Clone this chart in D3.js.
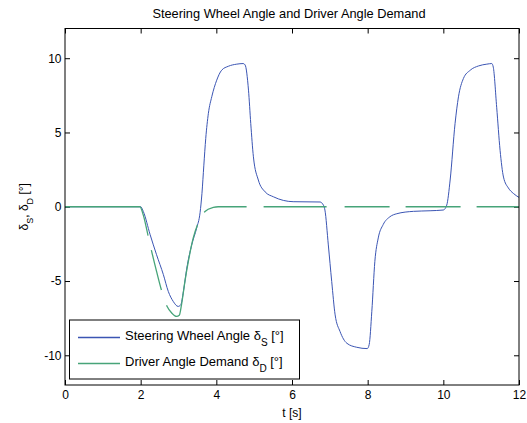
<!DOCTYPE html>
<html>
<head>
<meta charset="utf-8">
<script src="https://cdn.jsdelivr.net/npm/d3@7"></script>
<style>
  body { margin: 0; background: #fff; }
  svg text { font-family: "Liberation Sans", Arial, sans-serif; fill: #000; }
</style>
</head>
<body>
<div class="chart"></div>
<script>
// steering wheel angle (blue)
const steerT = [0, 2.0, 2.07, 2.25, 2.42, 2.6, 2.73, 2.86, 2.99, 3.06, 3.13, 3.22, 3.35, 3.48, 3.57, 3.62, 3.67, 3.72, 3.79, 3.88, 4.01, 4.14, 4.32, 4.54, 4.71, 4.76, 4.85, 4.91, 4.98, 5.11, 5.29, 5.51, 6.03, 6.74, 6.83, 6.87, 6.96, 7.05, 7.14, 7.27, 7.45, 7.71, 7.99, 8.04, 8.11, 8.19, 8.28, 8.41, 8.59, 8.77, 9.21, 9.65, 10.0, 10.09, 10.18, 10.31, 10.4, 10.53, 10.71, 10.93, 11.15, 11.28, 11.32, 11.41, 11.5, 11.59, 11.72, 11.85, 12];
const steerDeg = [0, 0, -0.32, -1.88, -3.23, -4.57, -5.7, -6.37, -6.71, -6.6, -5.7, -4.13, -2.56, -1.43, -0.4, 0.9, 2.8, 4.6, 6.29, 7.41, 8.52, 9.19, 9.46, 9.6, 9.64, 9.55, 7.85, 5.6, 3.36, 1.8, 1.0, 0.67, 0.34, 0.32, 0.11, -0.22, -2.57, -5.04, -7.28, -8.4, -9.19, -9.46, -9.55, -9.28, -7.04, -3.68, -2.1, -1.2, -0.67, -0.47, -0.31, -0.27, -0.22, 0.11, 1.8, 5.6, 7.4, 8.63, 9.19, 9.48, 9.6, 9.64, 9.4, 6.7, 3.8, 2.0, 1.26, 0.9, 0.63];

// driver angle demand (green)
const demandT = [0, 1.98, 2.07, 2.2, 2.29, 2.42, 2.56, 2.7, 2.82, 2.95, 3.02, 3.08, 3.17, 3.26, 3.39, 3.52, 3.7, 3.92, 4.05, 12];
const demandDeg = [0, 0, -0.56, -2.0, -3.0, -4.35, -5.7, -6.71, -7.15, -7.38, -7.31, -6.59, -5.02, -3.68, -2.1, -1.1, -0.32, -0.05, 0, 0];

const xTicks = [0, 2, 4, 6, 8, 10, 12];
const yTicks = [-10, -5, 0, 5, 10];

const width = 527;
const height = 423;
const padL = 65, padR = 519, padT = 28.5, padB = 385;

const blue = "#3b55b3";
const green = "#47a479";

let svg = d3.select(".chart").append("svg")
    .attr("width", width)
    .attr("height", height);

let xScale = d3.scaleLinear().domain([0, 12]).range([padL, padR]);
let yScale = d3.scaleLinear().domain([-12, 12]).range([padB, padT]);

svg.append("defs").append("clipPath").attr("id", "plotclip")
    .append("rect")
    .attr("x", padL).attr("y", padT)
    .attr("width", padR - padL).attr("height", padB - padT);

// axes, ticks pointing inwards on all four sides
const styleAxis = g => {
    g.selectAll("path").remove();
    g.selectAll("line").attr("stroke", "#000");
    g.selectAll("text").style("font-size", "12px");
};
const plainNum = d => String(d);   // plain hyphen for negatives, like the original

svg.append("g")
    .attr("transform", "translate(0," + padB + ")")
    .call(d3.axisBottom(xScale).tickValues(xTicks).tickFormat(plainNum).tickSizeInner(-5).tickSizeOuter(0).tickPadding(5.5))
    .call(styleAxis);
svg.append("g")
    .attr("transform", "translate(0," + padT + ")")
    .call(d3.axisTop(xScale).tickValues(xTicks).tickSizeInner(-5).tickSizeOuter(0).tickFormat(""))
    .call(styleAxis);
svg.append("g")
    .attr("transform", "translate(" + padL + ",0)")
    .call(d3.axisLeft(yScale).tickValues(yTicks).tickFormat(plainNum).tickSizeInner(-5).tickSizeOuter(0).tickPadding(3.5))
    .call(styleAxis);
svg.append("g")
    .attr("transform", "translate(" + padR + ",0)")
    .call(d3.axisRight(yScale).tickValues(yTicks).tickSizeInner(-5).tickSizeOuter(0).tickFormat(""))
    .call(styleAxis);

// data lines
const line = d3.line()
    .x(d => xScale(d[0]))
    .y(d => yScale(d[1]))
    .curve(d3.curveMonotoneX);

const plot = svg.append("g").attr("clip-path", "url(#plotclip)");

plot.append("path")
    .datum(steerT.map((t, i) => [t, steerDeg[i]]))
    .attr("fill", "none")
    .attr("stroke", blue)
    .attr("stroke-width", 1)
    .attr("d", line);

// dashes are uneven in the original, so the pattern is listed out
plot.append("path")
    .datum(demandT.map((t, i) => [t, demandDeg[i]]))
    .attr("fill", "none")
    .attr("stroke", green)
    .attr("stroke-width", 1.3)
    .attr("stroke-dasharray", "105,15,41,16,111,14,44,17,63,18,45,16,55,16,300")
    .attr("d", line);

// box
svg.append("rect")
    .attr("x", padL).attr("y", padT)
    .attr("width", padR - padL).attr("height", padB - padT)
    .attr("fill", "none")
    .attr("stroke", "#000")
    .attr("stroke-width", 1);

// title and axis labels
svg.append("text")
    .attr("x", (padL + padR) / 2 - 3)
    .attr("y", 18)
    .attr("text-anchor", "middle")
    .style("font-size", "12.8px")
    .text("Steering Wheel Angle and Driver Angle Demand");

svg.append("text")
    .attr("x", (padL + padR) / 2)
    .attr("y", 417)
    .attr("text-anchor", "middle")
    .style("font-size", "12px")
    .text("t [s]");

let ylab = svg.append("text")
    .attr("transform", "translate(28," + ((padT + padB) / 2) + ") rotate(-90)")
    .attr("text-anchor", "middle")
    .style("font-size", "12px");
ylab.append("tspan").text("δ");
ylab.append("tspan").attr("baseline-shift", "sub").style("font-size", "9px").text("S");
ylab.append("tspan").text(", δ");
ylab.append("tspan").attr("baseline-shift", "sub").style("font-size", "9px").text("D");
ylab.append("tspan").text(" [°]");

// legend
const legendItems = [
    { label: "Steering Wheel Angle δ", sub: "S", color: blue },
    { label: "Driver Angle Demand δ", sub: "D", color: green }
];
let legend = svg.append("g");
legend.append("rect")
    .attr("x", 69.5).attr("y", 320)
    .attr("width", 230).attr("height", 59)
    .attr("fill", "#fff")
    .attr("stroke", "#000");

legendItems.forEach((item, i) => {
    let ly = 337.5 + i * 26;
    legend.append("line")
        .attr("x1", 78).attr("x2", 120)
        .attr("y1", ly).attr("y2", ly)
        .attr("stroke", item.color)
        .attr("stroke-width", 1.3);
    let t = legend.append("text")
        .attr("x", 125)
        .attr("y", ly + 2.5)
        .style("font-size", "13px");
    t.append("tspan").text(item.label);
    t.append("tspan").attr("baseline-shift", "sub").style("font-size", "10px").text(item.sub);
    t.append("tspan").text(" [°]");
});
</script>
</body>
</html>
